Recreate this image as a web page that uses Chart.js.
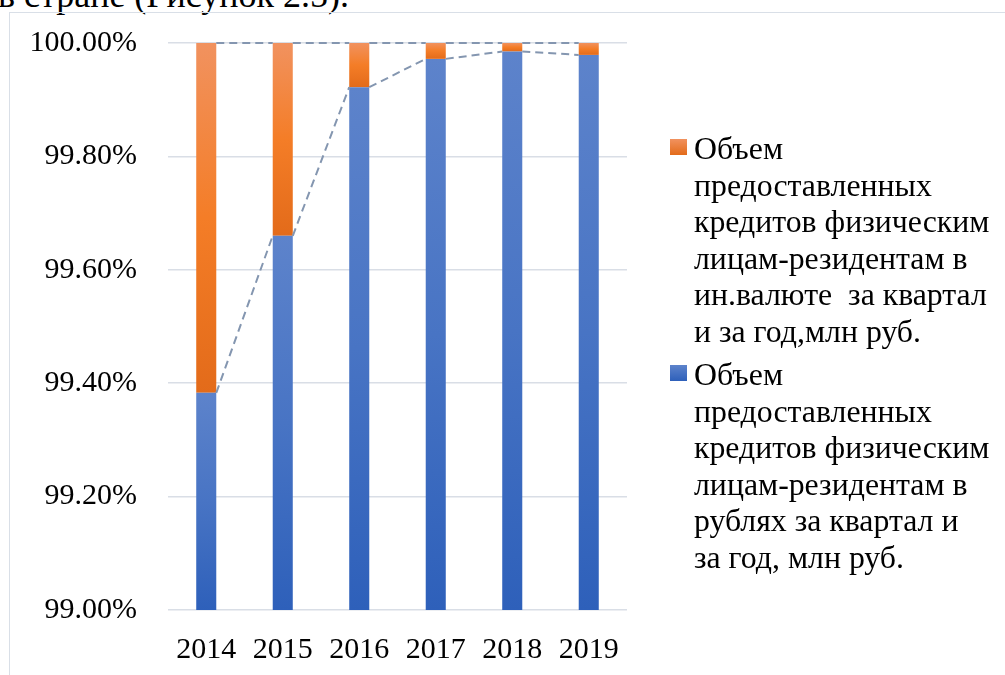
<!DOCTYPE html>
<html lang="ru">
<head>
<meta charset="utf-8">
<title>Кредиты физическим лицам</title>
<script src="https://cdn.jsdelivr.net/npm/chart.js@4.4.1/dist/chart.umd.min.js"></script>
<style>
  html, body { margin: 0; padding: 0; background: #fff; }
  body {
    position: relative;
    width: 1005px;
    height: 675px;
    overflow: hidden;
    font-family: "Liberation Serif", "DejaVu Serif", serif;
    color: #000;
  }
  .caption {
    position: absolute;
    left: -2px;
    top: -23px;
    font-size: 36px;
    line-height: 36px;
    white-space: nowrap;
  }
  .frame {
    position: absolute;
    left: 9px;
    top: 12px;
    width: 1100px;
    height: 700px;
    border-left: 1.5px solid #d9dfe7;
    border-top: 1.5px solid #d9dfe7;
  }
  #chart { position: absolute; left: 0; top: 0; }
  .legend {
    position: absolute;
    left: 670px;
    top: 131px;
    font-size: 31.8px;
    line-height: 36.6px;
  }
  .legend-item { display: flex; align-items: flex-start; margin-bottom: 6.4px; }
  .legend-box { width: 17px; height: 16px; margin-top: 8px; margin-right: 7px; flex: none; }
  .legend-text div { white-space: pre; }
</style>
</head>
<body>
<div class="caption">в стране (Рисунок 2.5).</div>
<div class="frame"></div>
<canvas id="chart" width="1005" height="675"></canvas>
<div class="legend" id="legend"></div>
<script>
// shares of loans issued to resident individuals, % of total
const years = ['2014', '2015', '2016', '2017', '2018', '2019'];
const rubShare = [99.383, 99.660, 99.922, 99.972, 99.985, 99.979];
const fxShare = [0.617, 0.340, 0.078, 0.028, 0.015, 0.021];
const yTicks = [99.0, 99.2, 99.4, 99.6, 99.8, 100.0];

const rubLabel = ['Объем', 'предоставленных', 'кредитов физическим', 'лицам-резидентам в', 'рублях за квартал и', 'за год, млн руб.'];
const fxLabel = ['Объем', 'предоставленных', 'кредитов физическим', 'лицам-резидентам в', 'ин.валюте  за квартал', 'и за год,млн руб.'];

const BLUE = ['#5d83cb', '#4874c4', '#2e60ba'];
const ORANGE = ['#f1925f', '#f47d27', '#e36b1a'];
const FONT = "'Liberation Serif', 'DejaVu Serif', serif";

// each stacked segment gets its own top-to-bottom gradient
const segmentFill = (stops) => (c) => {
  const chart = c.chart;
  const y = chart.scales && chart.scales.y;
  if (c.type !== 'data' || !y) return stops[1];
  let below = 0;
  for (let d = 0; d < c.datasetIndex; d++) {
    below += chart.data.datasets[d].data[c.dataIndex];
  }
  const top = below + c.raw;
  const y0 = y.getPixelForValue(top);
  const y1 = y.getPixelForValue(Math.max(below, y.min));
  if (!isFinite(y0) || !isFinite(y1) || y1 - y0 < 0.5) return stops[1];
  const g = chart.ctx.createLinearGradient(0, y0, 0, y1);
  g.addColorStop(0, stops[0]);
  g.addColorStop(0.5, stops[1]);
  g.addColorStop(1, stops[2]);
  return g;
};

// dashed series lines joining the segment tops of neighbouring bars
const seriesLines = {
  id: 'seriesLines',
  afterDatasetsDraw(chart) {
    const ctx = chart.ctx;
    ctx.save();
    ctx.strokeStyle = '#8496b0';
    ctx.lineWidth = 2;
    ctx.setLineDash([8, 5]);
    chart.data.datasets.forEach((ds, di) => {
      const bars = chart.getDatasetMeta(di).data;
      for (let i = 0; i < bars.length - 1; i++) {
        const a = bars[i];
        const b = bars[i + 1];
        ctx.beginPath();
        ctx.moveTo(a.x + a.width / 2, a.y);
        ctx.lineTo(b.x - b.width / 2, b.y);
        ctx.stroke();
      }
    });
    ctx.restore();
  }
};

const datasets = [
  { label: rubLabel, data: rubShare, swatch: BLUE, backgroundColor: segmentFill(BLUE) },
  { label: fxLabel, data: fxShare, swatch: ORANGE, backgroundColor: segmentFill(ORANGE) }
];

new Chart(document.getElementById('chart'), {
  type: 'bar',
  data: {
    labels: years,
    datasets: datasets.map((d) => ({
      label: d.label.join(' '),
      data: d.data,
      backgroundColor: d.backgroundColor,
      borderWidth: 0,
      barPercentage: 0.262,
      categoryPercentage: 1
    }))
  },
  options: {
    responsive: false,
    animation: false,
    layout: { padding: { left: 20, top: 43, right: 378, bottom: 0 } },
    plugins: {
      legend: { display: false },
      tooltip: { enabled: false }
    },
    scales: {
      x: {
        stacked: true,
        grid: { display: false, drawTicks: false },
        border: { display: false },
        ticks: { color: '#000', padding: 22, font: { family: FONT, size: 30 } },
        afterFit: (s) => { s.height = 65; }
      },
      y: {
        stacked: true,
        min: 99,
        max: 100,
        grid: { color: '#d9dee6', lineWidth: 1.5, drawTicks: false },
        border: { display: false },
        afterBuildTicks: (s) => { s.ticks = yTicks.map((v) => ({ value: v })); },
        ticks: {
          color: '#000',
          padding: 31,
          font: { family: FONT, size: 30 },
          callback: (v) => Number(v).toFixed(2) + '%'
        },
        afterFit: (s) => {
          s.width = 148;
          s.paddingTop = 0;
          s.paddingBottom = 0;
        }
      }
    }
  },
  plugins: [seriesLines]
});

// legend on the right, upper series first
const legend = document.getElementById('legend');
datasets.slice().reverse().forEach((d) => {
  const item = document.createElement('div');
  item.className = 'legend-item';
  const box = document.createElement('div');
  box.className = 'legend-box';
  box.style.background = `linear-gradient(${d.swatch[0]}, ${d.swatch[2]})`;
  const text = document.createElement('div');
  text.className = 'legend-text';
  d.label.forEach((line) => {
    const row = document.createElement('div');
    row.textContent = line;
    text.appendChild(row);
  });
  item.appendChild(box);
  item.appendChild(text);
  legend.appendChild(item);
});
</script>
</body>
</html>
